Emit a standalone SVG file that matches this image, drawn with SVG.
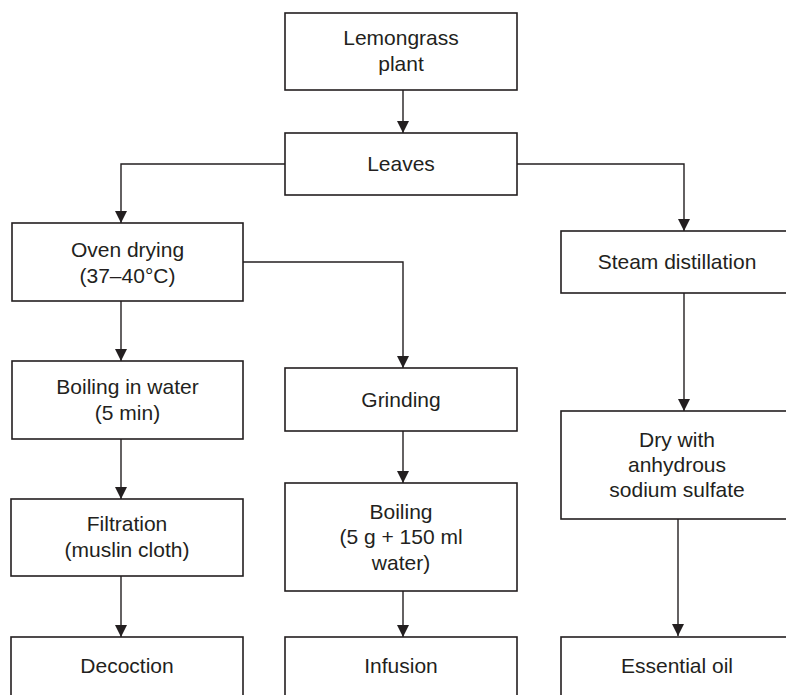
<svg xmlns="http://www.w3.org/2000/svg" width="786" height="695" viewBox="0 0 786 695">
<style>
.box{fill:#fff;stroke:#231f20;stroke-width:1.6}
.t{font-family:"Liberation Sans",Arial,sans-serif;font-size:21px;fill:#231f20;text-anchor:middle}
.c{fill:none;stroke:#231f20;stroke-width:1.4;marker-end:url(#ah)}
</style>
<defs>
<marker id="ah" markerUnits="userSpaceOnUse" markerWidth="12" markerHeight="12" viewBox="0 0 12 12" refX="12" refY="6" orient="auto">
<path d="M0,0 L12,6 L0,12 Z" fill="#231f20"/>
</marker>
</defs>
<rect width="786" height="695" fill="#fff"/>
<g id="connectors">
<path class="c" d="M403,90 V133"/>
<path class="c" d="M285,164 H121 V223"/>
<path class="c" d="M517,164 H684 V231"/>
<path class="c" d="M243,262 H403 V368"/>
<path class="c" d="M121,301 V361"/>
<path class="c" d="M121,439 V499"/>
<path class="c" d="M121,576 V637"/>
<path class="c" d="M403,431 V483"/>
<path class="c" d="M403,591 V637"/>
<path class="c" d="M684,293 V411"/>
<path class="c" d="M678,519 V636"/>
</g>
<g id="lemongrass"><rect class="box" x="285" y="13" width="232" height="77"/><text class="t" x="401" y="45">Lemongrass</text><text class="t" x="401" y="71">plant</text></g>
<g id="leaves"><rect class="box" x="285" y="133" width="232" height="62"/><text class="t" x="401" y="171">Leaves</text></g>
<g id="oven"><rect class="box" x="12" y="223" width="231" height="78"/><text class="t" x="127.5" y="257">Oven drying</text><text class="t" x="127.5" y="283">(37–40°C)</text></g>
<g id="steam"><rect class="box" x="561" y="231" width="232" height="62"/><text class="t" x="677" y="269">Steam distillation</text></g>
<g id="boilwater"><rect class="box" x="12" y="361" width="231" height="78"/><text class="t" x="127.5" y="394">Boiling in water</text><text class="t" x="127.5" y="420">(5 min)</text></g>
<g id="grinding"><rect class="box" x="285" y="368" width="232" height="63"/><text class="t" x="401" y="407">Grinding</text></g>
<g id="dry"><rect class="box" x="561" y="411" width="232" height="108"/><text class="t" x="677" y="447">Dry with</text><text class="t" x="677" y="472">anhydrous</text><text class="t" x="677" y="497">sodium sulfate</text></g>
<g id="filtration"><rect class="box" x="11" y="499" width="232" height="77"/><text class="t" x="127" y="531">Filtration</text><text class="t" x="127" y="557">(muslin cloth)</text></g>
<g id="boiling5g"><rect class="box" x="285" y="483" width="232" height="108"/><text class="t" x="401" y="519">Boiling</text><text class="t" x="401" y="544">(5 g + 150 ml</text><text class="t" x="401" y="570">water)</text></g>
<g id="decoction"><rect class="box" x="11" y="637" width="232" height="70"/><text class="t" x="127" y="673">Decoction</text></g>
<g id="infusion"><rect class="box" x="285" y="637" width="232" height="70"/><text class="t" x="401" y="673">Infusion</text></g>
<g id="essential"><rect class="box" x="561" y="637" width="232" height="70"/><text class="t" x="677" y="673">Essential oil</text></g>
</svg>
